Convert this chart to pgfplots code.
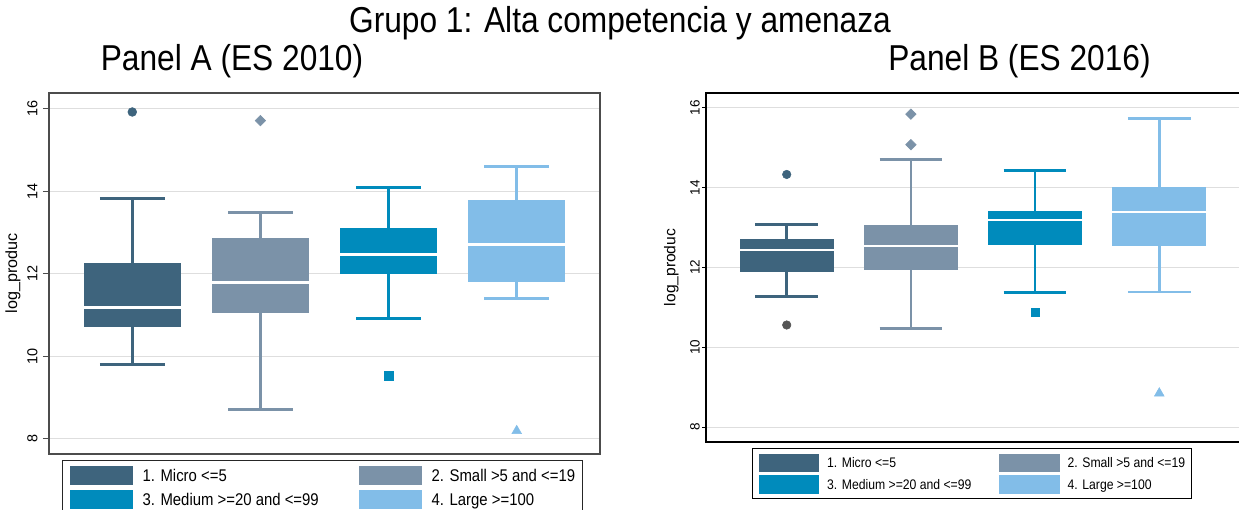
\documentclass[border=0pt]{standalone}
\usepackage{fontspec}
\setmainfont{Liberation Sans}
\newfontfamily\hfont{Liberation Sans}[FakeStretch=0.88]
\usepackage{pgfplots}
\pgfplotsset{compat=1.18}
\usepgfplotslibrary{statistics}
\definecolor{c1}{RGB}{62,100,125}
\definecolor{c2}{RGB}{123,146,168}
\definecolor{c3}{RGB}{0,139,188}
\definecolor{c4}{RGB}{130,189,232}
\definecolor{og}{RGB}{85,85,85}
\definecolor{gridc}{RGB}{222,222,222}
\begin{document}
\begin{tikzpicture}
\useasboundingbox (0,0) rectangle (929.25pt,-382.5pt);
\node[anchor=base, font=\hfont\fontsize{27pt}{30pt}\selectfont] at (465pt,-24.75pt) {Grupo 1: Alta competencia y amenaza};
\node[anchor=base, font=\hfont\fontsize{27pt}{30pt}\selectfont] at (174pt,-53.25pt) {Panel A (ES 2010)};
\node[anchor=base, font=\hfont\fontsize{27pt}{30pt}\selectfont] at (764.6pt,-53.25pt) {Panel B (ES 2016)};

% ---------------- Panel A ----------------
\begin{axis}[
  at={(36.75pt,-69.75pt)}, anchor=north west,
  width=413.25pt, height=270.75pt, scale only axis,
  xmin=0.35, xmax=4.65, ymin=7.63, ymax=16.38,
  xtick=\empty, ytick={8,10,12,14,16}, ytick pos=left,
  tick align=outside, major tick length=4.5pt,
  major tick style={draw=black!70, line width=0.9pt},
  ymajorgrids, major grid style={draw=gridc, line width=1pt},
  axis line style={draw=black!70, line width=1.1pt},
  /pgf/number format/assume math mode=true,
  yticklabel style={rotate=90, anchor=south, inner sep=4pt, font=\fontsize{10.8pt}{12pt}\selectfont},
  ylabel={log\_produc},
  ylabel style={at={(axis description cs:-0.0653,0.5)}, anchor=center, font=\fontsize{12.1pt}{14pt}\selectfont},
  boxplot/draw direction=y,
  legend columns=2, legend cell align=left,
  legend style={at={(axis description cs:0.0236,-0.0166)}, anchor=north west,
    draw=black!85, line width=0.8pt, fill=white,
    inner xsep=5.25pt, inner ysep=3.75pt, column sep=7.5pt, row sep=3.75pt,
    nodes={inner sep=0pt, text depth=0pt, font=\hfont\fontsize{12.7pt}{15pt}\selectfont}},
]
\addplot+[boxplot prepared={lower whisker=9.79, lower quartile=10.72, median=11.18, upper quartile=12.27, upper whisker=13.82, draw position=1, box extend=0.756, whisker extend=0.505,
    every box/.style={draw=none, fill=c1}, every median/.style={draw=white, line width=2pt}, every whisker/.style={draw=c1, line width=2.3pt}},
  draw=c1, solid, mark=none, line width=2.3pt,
  legend image code/.code={\fill[c1] (0pt,-6pt) rectangle (45pt,6pt);}] coordinates {};
\addlegendentry{\makebox[154.5pt][l]{1. Micro <=5}}
\addplot+[boxplot prepared={lower whisker=8.70, lower quartile=11.05, median=11.78, upper quartile=12.86, upper whisker=13.49, draw position=2, box extend=0.756, whisker extend=0.505,
    every box/.style={draw=none, fill=c2}, every median/.style={draw=white, line width=2pt}, every whisker/.style={draw=c2, line width=2.3pt}},
  draw=c2, solid, mark=none, line width=2.3pt,
  legend image code/.code={\fill[c2] (0pt,-6pt) rectangle (45pt,6pt);}] coordinates {};
\addlegendentry{2. Small >5 and <=19}
\addplot+[boxplot prepared={lower whisker=10.91, lower quartile=11.99, median=12.46, upper quartile=13.10, upper whisker=14.08, draw position=3, box extend=0.756, whisker extend=0.505,
    every box/.style={draw=none, fill=c3}, every median/.style={draw=white, line width=2pt}, every whisker/.style={draw=c3, line width=2.3pt}},
  draw=c3, solid, mark=none, line width=2.3pt,
  legend image code/.code={\fill[c3] (0pt,-6pt) rectangle (45pt,6pt);}] coordinates {};
\addlegendentry{\makebox[154.5pt][l]{3. Medium >=20 and <=99}}
\addplot+[boxplot prepared={lower whisker=11.39, lower quartile=11.80, median=12.70, upper quartile=13.78, upper whisker=14.59, draw position=4, box extend=0.756, whisker extend=0.505,
    every box/.style={draw=none, fill=c4}, every median/.style={draw=white, line width=2pt}, every whisker/.style={draw=c4, line width=2.3pt}},
  draw=c4, solid, mark=none, line width=2.3pt,
  legend image code/.code={\fill[c4] (0pt,-6pt) rectangle (45pt,6pt);}] coordinates {};
\addlegendentry{4. Large >=100}
\addplot[forget plot, only marks, mark=*, mark size=3.3pt, draw=c1, fill=c1] coordinates {(1,15.92)};
\addplot[forget plot, only marks, mark=square*, mark options={rotate=45}, mark size=2.8pt, draw=c2, fill=c2] coordinates {(2,15.71)};
\addplot[forget plot, only marks, mark=square*, mark size=3.3pt, draw=c3, fill=c3] coordinates {(3,9.53)};
\addplot[forget plot, only marks, mark=triangle*, mark size=4.2pt, draw=c4, fill=c4] coordinates {(4,8.19)};
\end{axis}

% ---------------- Panel B ----------------
\begin{axis}[
  at={(529.5pt,-69.75pt)}, anchor=north west,
  width=400.5pt, height=261.75pt, scale only axis,
  xmin=0.35, xmax=4.65, ymin=7.63, ymax=16.37,
  xtick=\empty, ytick={8,10,12,14,16}, ytick pos=left,
  tick align=outside, major tick length=3pt,
  major tick style={draw=black, line width=0.9pt},
  ymajorgrids, major grid style={draw=gridc, line width=1pt},
  axis line style={draw=black, line width=1.1pt},
  /pgf/number format/assume math mode=true,
  yticklabel style={rotate=90, anchor=south, inner sep=1.5pt, font=\fontsize{10.1pt}{12pt}\selectfont},
  ylabel={log\_produc},
  ylabel style={at={(axis description cs:-0.0647,0.5)}, anchor=center, font=\fontsize{11.7pt}{14pt}\selectfont},
  boxplot/draw direction=y,
  legend columns=2, legend cell align=left,
  legend style={at={(axis description cs:0.0863,-0.0172)}, anchor=north west,
    draw=black, line width=0.8pt, fill=white,
    inner xsep=4.5pt, inner ysep=3.75pt, column sep=6pt, row sep=2.25pt,
    nodes={inner sep=0pt, text depth=0pt, font=\hfont\fontsize{10.4pt}{12pt}\selectfont}},
]
\addplot+[boxplot prepared={lower whisker=11.28, lower quartile=11.89, median=12.43, upper quartile=12.725, upper whisker=13.08, draw position=1, box extend=0.758, whisker extend=0.505,
    every box/.style={draw=none, fill=c1}, every median/.style={draw=white, line width=1.6pt}, every whisker/.style={draw=c1, line width=1.9pt}},
  draw=c1, solid, mark=none, line width=1.9pt,
  legend image code/.code={\fill[c1] (0pt,-6pt) rectangle (43.5pt,6pt);}] coordinates {};
\addlegendentry{\makebox[123pt][l]{1. Micro <=5}}
\addplot+[boxplot prepared={lower whisker=10.47, lower quartile=11.94, median=12.54, upper quartile=13.075, upper whisker=14.71, draw position=2, box extend=0.758, whisker extend=0.505,
    every box/.style={draw=none, fill=c2}, every median/.style={draw=white, line width=1.6pt}, every whisker/.style={draw=c2, line width=1.9pt}},
  draw=c2, solid, mark=none, line width=1.9pt,
  legend image code/.code={\fill[c2] (0pt,-6pt) rectangle (43.5pt,6pt);}] coordinates {};
\addlegendentry{2. Small >5 and <=19}
\addplot+[boxplot prepared={lower whisker=11.37, lower quartile=12.57, median=13.19, upper quartile=13.425, upper whisker=14.43, draw position=3, box extend=0.758, whisker extend=0.505,
    every box/.style={draw=none, fill=c3}, every median/.style={draw=white, line width=1.6pt}, every whisker/.style={draw=c3, line width=1.9pt}},
  draw=c3, solid, mark=none, line width=1.9pt,
  legend image code/.code={\fill[c3] (0pt,-6pt) rectangle (43.5pt,6pt);}] coordinates {};
\addlegendentry{\makebox[123pt][l]{3. Medium >=20 and <=99}}
\addplot+[boxplot prepared={lower whisker=11.39, lower quartile=12.54, median=13.38, upper quartile=14.025, upper whisker=15.73, draw position=4, box extend=0.758, whisker extend=0.505,
    every box/.style={draw=none, fill=c4}, every median/.style={draw=white, line width=1.6pt}, every whisker/.style={draw=c4, line width=1.9pt}},
  draw=c4, solid, mark=none, line width=1.9pt,
  legend image code/.code={\fill[c4] (0pt,-6pt) rectangle (43.5pt,6pt);}] coordinates {};
\addlegendentry{4. Large >=100}
\addplot[forget plot, only marks, mark=*, mark size=3.2pt, draw=c1, fill=c1] coordinates {(1,14.33)};
\addplot[forget plot, only marks, mark=*, mark size=3.2pt, draw=og, fill=og] coordinates {(1,10.56)};
\addplot[forget plot, only marks, mark=square*, mark options={rotate=45}, mark size=2.8pt, draw=c2, fill=c2] coordinates {(2,15.84) (2,15.075)};
\addplot[forget plot, only marks, mark=square*, mark size=3.2pt, draw=c3, fill=c3] coordinates {(3,10.875)};
\addplot[forget plot, only marks, mark=triangle*, mark size=4.2pt, draw=c4, fill=c4] coordinates {(4,8.85)};
\end{axis}
\end{tikzpicture}
\end{document}
